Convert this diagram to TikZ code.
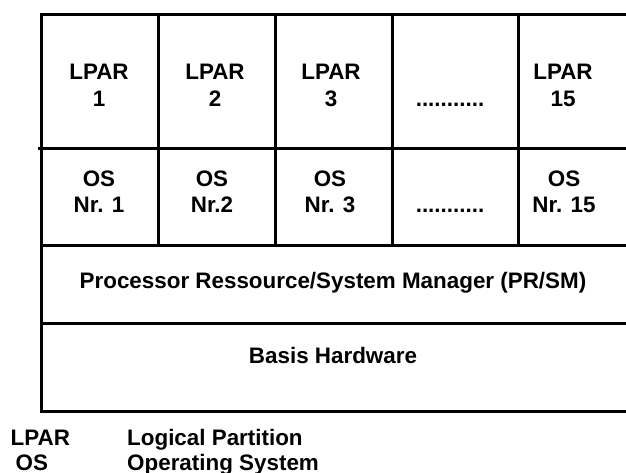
\documentclass[tikz,border=0pt]{standalone}
\usepackage{fontspec}
\setmainfont{Liberation Sans}
\begin{document}
\begin{tikzpicture}[x=1pt,y=-1pt,
  grid/.style={line width=3pt,line cap=rect},
  lbl/.style={inner sep=0pt,anchor=base,align=center,
    font=\fontsize{22.4}{26.5}\selectfont\bfseries},
  leg/.style={lbl,anchor=base west,align=left}]
  \useasboundingbox (0,0) rectangle (626,472);

  % outer frame: top edge, left edge; layers run out to the right margin
  \coordinate (tl) at (41,14);
  \coordinate (tr) at (626,14);
  \coordinate (bl) at (41,411);
  \coordinate (br) at (626,411);
  \draw[grid] (tr) -- (tl) -- (bl) -- (br);

  % horizontal layer boundaries
  \coordinate (h1l) at (39,148);  \coordinate (h1r) at (626,148);
  \coordinate (h2l) at (41,245);  \coordinate (h2r) at (626,245);
  \coordinate (h3l) at (41,323);  \coordinate (h3r) at (626,323);
  \draw[grid] (h1l) -- (h1r);
  \draw[grid] (h2l) -- (h2r);
  \draw[grid] (h3l) -- (h3r);

  % partition columns
  \foreach \cx in {158,275,392,518}{
    \coordinate (vt\cx) at (\cx,14);
    \coordinate (vb\cx) at (\cx,245);
    \draw[grid] (vt\cx) -- (vb\cx);
  }

  % logical partitions (base anchor sits on the last line)
  \node[lbl] (lpar1)  at (99,106)  {LPAR\\1};
  \node[lbl] (lpar2)  at (215,106) {LPAR\\2};
  \node[lbl] (lpar3)  at (331,106) {LPAR\\3};
  \node[lbl] (lpardots) at (450,106) {...........};
  \node[lbl] (lpar15) at (563,106) {LPAR\\15};

  % operating systems
  \node[lbl] (os1)  at (99,212.5)  {OS\\Nr. 1};
  \node[lbl] (os2)  at (212,212.5) {OS\\Nr.2};
  \node[lbl] (os3)  at (330,212.5) {OS\\Nr. 3};
  \node[lbl] (osdots) at (450,212.5) {...........};
  \node[lbl] (os15) at (564,212.5) {OS\\Nr. 15};

  % lower layers
  \node[lbl] (prsm) at (333,288) {Processor Ressource/System Manager (PR/SM)};
  \node[lbl] (hw)   at (333,363) {Basis Hardware};

  % legend
  \node[leg] (kl1) at (10.5,445) {LPAR};
  \node[leg] (kl2) at (15.5,470) {OS};
  \node[leg] (kd1) at (127,445) {Logical Partition};
  \node[leg] (kd2) at (127,470) {Operating System};
\end{tikzpicture}
\end{document}
